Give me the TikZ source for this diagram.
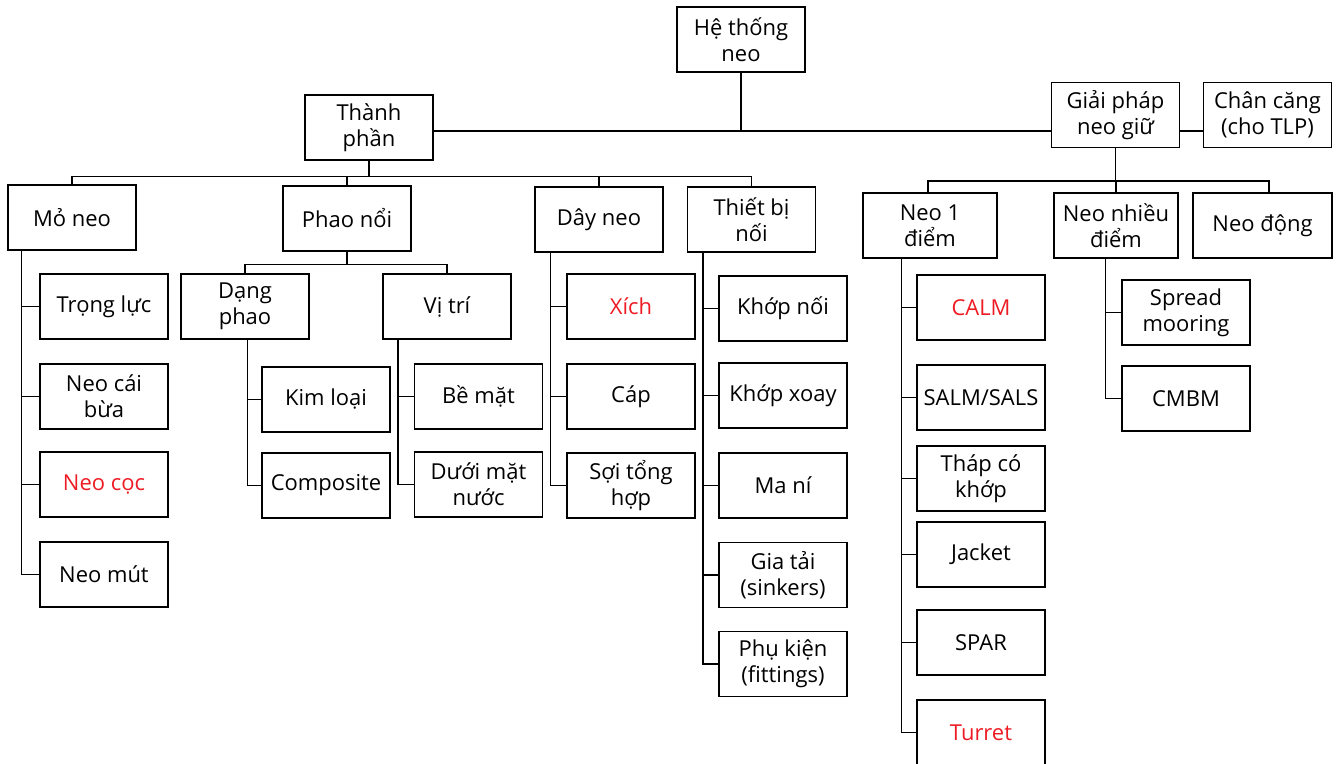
\documentclass[tikz,border=0pt]{standalone}
\usepackage{fontspec}
\setmainfont{Open Sans}
\definecolor{dodam}{RGB}{237,28,36}

\begin{document}
\begin{tikzpicture}[x=0.02cm, y=-0.02cm, line width=0.6pt,
    hop/.style={draw, minimum width=2.56cm, minimum height=1.3cm, align=center,
      inner sep=1pt, font=\fontsize{12.5}{14.8}\selectfont},
    chudo/.style={text=dodam}]
\useasboundingbox (0,0) rectangle (1340,764);

    % cấp trên cùng
\node[hop] (hethong) at (741,39.5) {Hệ thống\\neo};
\node[hop] (thanhphan) at (369,127.5) {Thành\\phần};
\node[hop] (giaiphap) at (1115.5,115) {Giải pháp\\neo giữ};
\node[hop] (chancang) at (1267.5,115) {Chân căng\\(cho TLP)};
\coordinate (hub) at (741,131);
\draw (hethong) -- (hub);
\draw (thanhphan.east |- hub) -- (giaiphap.west |- hub);
\draw (giaiphap.east |- hub) -- (chancang.west |- hub);

    % thành phần
\node[hop] (monea) at (72,217.5) {Mỏ neo};
\node[hop] (phaonoi) at (347,218.5) {Phao nổi};
\node[hop] (dayneo) at (599,219.5) {Dây neo};
\node[hop] (thietbi) at (751.5,219.5) {Thiết bị\\nối};
\draw (thanhphan.south) -- ++(0,16) coordinate (bus1);
\foreach \n in {monea, phaonoi, dayneo, thietbi}
  \draw (\n.north) |- (bus1);

\node[hop] (trongluc) at (104,306.5) {Trọng lực};
\node[hop] (neocaibua) at (104,396.5) {Neo cái\\bừa};
\node[hop, chudo] (neococ) at (104,484.5) {Neo cọc};
\node[hop] (neomut) at (104,574.5) {Neo mút};
\foreach \n in {trongluc, neocaibua, neococ, neomut}
  \draw ([xshift=0.28cm]monea.south west) |- (\n.west);

\node[hop] (dangphao) at (245,306.5) {Dạng\\phao};
\node[hop] (vitri) at (447,306.5) {Vị trí};
\draw (phaonoi.south) -- ++(0,13) coordinate (bus2);
\draw (dangphao.north) |- (bus2);
\draw (vitri.north) |- (bus2);

\node[hop] (kimloai) at (326,399.5) {Kim loại};
\node[hop] (composite) at (326,485.5) {Composite};
\foreach \n in {kimloai, composite}
  \draw ([xshift=0.05cm]dangphao.south) |- (\n.west);

\node[hop] (bemat) at (478.5,396.5) {Bề mặt};
\node[hop] (duoimat) at (478.5,484.5) {Dưới mặt\\nước};
\foreach \n in {bemat, duoimat}
  \draw ([xshift=0.31cm]vitri.south west) |- (\n.west);

\node[hop, chudo] (xich) at (631,306.5) {Xích};
\node[hop] (cap) at (631,396.5) {Cáp};
\node[hop] (soi) at (631,485.5) {Sợi tổng\\hợp};
\foreach \n in {xich, cap, soi}
  \draw ([xshift=0.32cm]dayneo.south west) |- (\n.west);

\node[hop] (khopnoi) at (783,308.5) {Khớp nối};
\node[hop] (khopxoay) at (783,395.5) {Khớp xoay};
\node[hop] (mani) at (783,485.5) {Ma ní};
\node[hop] (giatai) at (783,575) {Gia tải\\(sinkers)};
\node[hop] (phukien) at (783,664) {Phụ kiện\\(fittings)};
\foreach \n in {khopnoi, khopxoay, mani, giatai, phukien}
  \draw ([xshift=0.32cm]thietbi.south west) |- (\n.west);

    % giải pháp neo giữ
\node[hop, minimum width=2.68cm] (neo1) at (930,225.5) {Neo 1\\điểm};
\node[hop, minimum width=2.48cm] (neonhieu) at (1116,225.5) {Neo nhiều\\điểm};
\node[hop, minimum width=2.78cm] (neodong) at (1262.5,225.5) {Neo động};
\draw (giaiphap.south) -- ++(0,33) coordinate (bus3);
\draw ([xshift=-0.04cm]neo1.north) |- (bus3);
\draw (neonhieu.north) |- (bus3);
\draw ([xshift=0.13cm]neodong.north) |- (bus3);

\node[hop, chudo] (calm) at (981,307.5) {CALM};
\node[hop] (salm) at (981,397.5) {SALM/SALS};
\node[hop] (thap) at (981,478.5) {Tháp có\\khớp};
\node[hop] (jacket) at (981,554.5) {Jacket};
\node[hop] (spar) at (981,642.5) {SPAR};
\node[hop, chudo] (turret) at (981,732.5) {Turret};
\foreach \n in {calm, salm, thap, jacket, spar, turret}
  \draw ([xshift=0.78cm]neo1.south west) |- (\n.west);

\node[hop] (spread) at (1186,312.5) {Spread\\mooring};
\node[hop] (cmbm) at (1186,398.5) {CMBM};
\foreach \n in {spread, cmbm}
  \draw ([xshift=1.04cm]neonhieu.south west) |- (\n.west);
\end{tikzpicture}
\end{document}
